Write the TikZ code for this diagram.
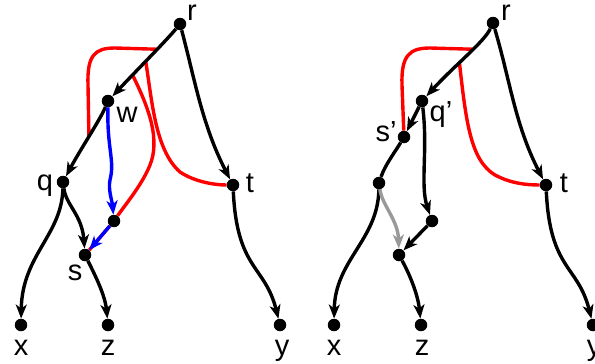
\documentclass[tikz,border=0pt]{standalone}
\usepackage{fontspec}
\setmainfont{Liberation Sans}
\usetikzlibrary{arrows.meta}
\pgfdeclarelayer{redlayer}
\pgfsetlayers{redlayer,main}
\begin{document}
\begin{tikzpicture}[x=1pt,y=-1pt,
  dot/.style={circle,fill=black,inner sep=0pt,minimum size=12.5pt},
  lbl/.style={anchor=base,inner sep=0pt,font=\fontsize{29}{32}\selectfont},
  arr/.style={line width=3.4pt,-{Stealth[length=14pt,width=11pt,inset=4pt]}},
  plain/.style={line width=3.4pt},
  redline/.style={line width=3.4pt,red},
  blueline/.style={arr,color=blue},
  grayline/.style={arr,color=black!40}]
\useasboundingbox (0,0) rectangle (595,364);
% ---------- left panel ----------
\node[dot] (r) at (180,24) {};
\node[dot] (w) at (108,101) {};
\node[dot] (q) at (63,182) {};
\node[dot] (t) at (233,185) {};
\node[dot] (m) at (114,221) {};
\node[dot] (s) at (85,255) {};
\node[dot] (x) at (21,325) {};
\node[dot] (z) at (108,325) {};
\node[dot] (y) at (280,325) {};
\node[lbl] (lr) at (192,20) {r};
\node[lbl] (lw) at (127,122) {w};
\node[lbl] (lq) at (45,190) {q};
\node[lbl] (lt) at (250,192) {t};
\node[lbl] (ls) at (75,280) {s};
\node[lbl] (lx) at (21,355) {x};
\node[lbl] (lz) at (108,355) {z};
\node[lbl] (ly) at (282,355) {y};
\draw[arr] (r) .. controls (165,42) and (135,72) .. coordinate[pos=0.37] (a2) coordinate[pos=0.54] (a4) coordinate[pos=0.72] (a3) (w);
\draw[arr] (w) .. controls (100,120) and (80,150) .. coordinate[pos=0.5] (a1) (q);
\draw[arr] (q) .. controls (62,235) and (22,255) .. (x);
\draw[arr] (q) .. controls (66,205) and (82,215) .. (s);
\draw[arr] (s) .. controls (95,275) and (105,295) .. (z);
\draw[arr] (r) .. controls (195,80) and (202,125) .. (t);
\draw[arr] (t) .. controls (237,270) and (265,265) .. (y);
\draw[blueline] (w) .. controls (107,150) and (115,160) .. (110,180) .. controls (108,190) and (112,200) .. (m);
\draw[blueline] (m) -- (s);
\begin{pgfonlayer}{redlayer}
\draw[redline] (a1) -- (88,85) .. controls (87,55) and (95,48) .. (115,48) -- (a2);
\draw[redline] (a3) .. controls (150,110) and (160,140) .. (150,165) .. controls (142,185) and (125,205) .. (m) -- (s);
\draw[redline] (a4) .. controls (152,100) and (155,150) .. (180,172) .. controls (195,182) and (215,185) .. (t);
\end{pgfonlayer}
% ---------- right panel ----------
\node[dot] (r2) at (493,23) {};
\node[dot] (q2) at (422,101) {};
\node[dot] (s2) at (404,137) {};
\node[dot] (n2) at (379,183) {};
\node[dot] (t2) at (546,185) {};
\node[dot] (b2) at (432,221) {};
\node[dot] (c2) at (399,255) {};
\node[dot] (x2) at (334,325) {};
\node[dot] (z2) at (421,325) {};
\node[dot] (y2) at (593,325) {};
\node[lbl] (lr2) at (506,20) {r};
\node[lbl] (lq2) at (441,121) {q’};
\node[lbl] (ls2) at (386,141) {s’};
\node[lbl] (lt2) at (564,192) {t};
\node[lbl] (lx2) at (334,355) {x};
\node[lbl] (lz2) at (422,355) {z};
\node[lbl] (ly2) at (594,355) {y};
\draw[arr] (r2) .. controls (484,42) and (455,65) .. coordinate[pos=0.4] (e2) coordinate[pos=0.6] (e4) (q2);
\draw[arr] (q2) -- (s2);
\draw[plain] (s2) .. controls (395,152) and (385,165) .. (n2);
\draw[arr] (n2) .. controls (378,240) and (335,260) .. (x2);
\draw[grayline] (n2) .. controls (382,205) and (398,220) .. (c2);
\draw[arr] (q2) .. controls (428,150) and (420,185) .. (b2);
\draw[arr] (b2) -- (c2);
\draw[arr] (c2) .. controls (410,275) and (418,295) .. (z2);
\draw[arr] (r2) .. controls (510,80) and (515,125) .. (t2);
\draw[arr] (t2) .. controls (550,270) and (578,265) .. (y2);
\begin{pgfonlayer}{redlayer}
\draw[redline] (s2) -- (402,85) .. controls (401,55) and (410,48) .. (430,48) -- (e2);
\draw[redline] (e4) .. controls (466,120) and (470,160) .. (495,175) .. controls (510,183) and (525,185) .. (t2);
\end{pgfonlayer}
\end{tikzpicture}
\end{document}
